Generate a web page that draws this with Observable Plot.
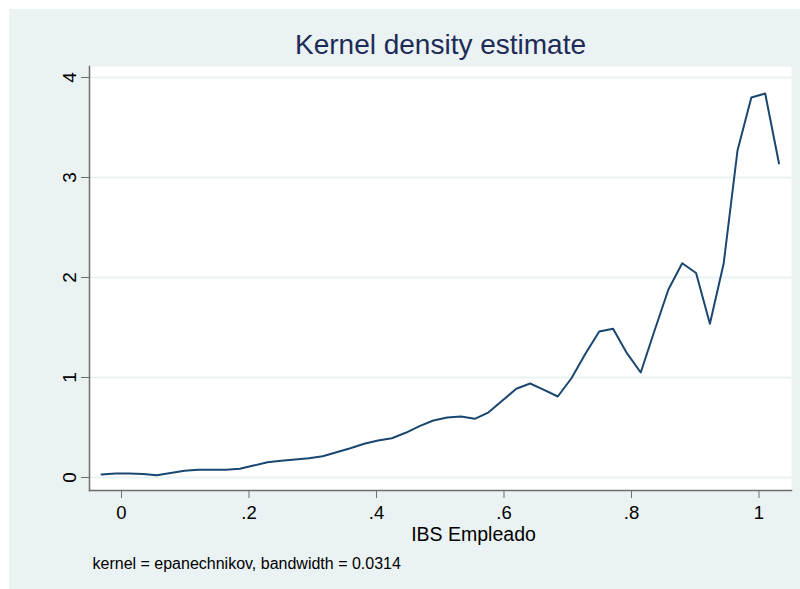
<!DOCTYPE html>
<html>
<head>
<meta charset="utf-8">
<script src="https://cdn.jsdelivr.net/npm/d3@7"></script>
<script src="https://cdn.jsdelivr.net/npm/@observablehq/plot@0.6"></script>
<style>
  html, body { margin: 0; padding: 0; background: #ffffff; }
  #wrap { position: relative; width: 800px; height: 589px; overflow: hidden; }
  #panel { position: absolute; left: 9px; top: 9px; width: 791px; height: 580px; background: #EAF2F3; }
  #chart { position: absolute; left: 0; top: 0; }
  svg { font-family: "Liberation Sans", Arial, sans-serif; }
</style>
</head>
<body>
<div id="wrap"><div id="panel"></div><div id="chart"></div></div>
<script>
// Evaluation points (IBS Empleado)
const xs = [
  -0.0314, -0.0097, 0.0120, 0.0337, 0.0554, 0.0771, 0.0987, 0.1204, 0.1421, 0.1638,
  0.1855, 0.2072, 0.2289, 0.2506, 0.2723, 0.2940, 0.3156, 0.3373, 0.3590, 0.3807,
  0.4024, 0.4241, 0.4458, 0.4675, 0.4892, 0.5109, 0.5325, 0.5542, 0.5759, 0.5976,
  0.6193, 0.6410, 0.6627, 0.6844, 0.7061, 0.7277, 0.7494, 0.7711, 0.7928, 0.8145,
  0.8362, 0.8579, 0.8796, 0.9013, 0.9230, 0.9446, 0.9663, 0.9880, 1.0097, 1.0314
];
// Density estimates
const density = [
  0.030, 0.040, 0.040, 0.035, 0.022, 0.045, 0.068, 0.077, 0.077, 0.078,
  0.088, 0.120, 0.152, 0.167, 0.180, 0.193, 0.212, 0.253, 0.293, 0.338,
  0.370, 0.393, 0.447, 0.513, 0.570, 0.600, 0.610, 0.587, 0.652, 0.770,
  0.887, 0.940, 0.877, 0.810, 0.995, 1.237, 1.460, 1.487, 1.243, 1.050,
  1.470, 1.880, 2.143, 2.045, 1.537, 2.140, 3.270, 3.800, 3.840, 3.140
];
const xTicks = [0, 0.2, 0.4, 0.6, 0.8, 1];
const xTickLabels = ["0", ".2", ".4", ".6", ".8", "1"];
const yTicks = [0, 1, 2, 3, 4];
const yTickLabels = ["0", "1", "2", "3", "4"];
const titleText = "Kernel density estimate";
const xTitle = "IBS Empleado";
const captionText = "kernel = epanechnikov, bandwidth = 0.0314";

const data = xs.map((x, i) => ({x, y: density[i]}));
const axisColor = "#6e6e6e";

const chart = Plot.plot({
  width: 800,
  height: 589,
  marginLeft: 89,
  marginRight: 9,
  marginTop: 66,
  marginBottom: 99,
  style: {background: "transparent", fontFamily: "'Liberation Sans', Arial, sans-serif", color: "#000"},
  x: {domain: [-0.0502, 1.051]},
  y: {domain: [-0.13, 4.11]},
  marks: [
    Plot.frame({fill: "white", stroke: null}),
    Plot.gridY(yTicks, {stroke: "#EAF2F3", strokeOpacity: 1, strokeWidth: 2}),
    Plot.frame({anchor: "left", stroke: axisColor, strokeWidth: 1.5}),
    Plot.frame({anchor: "bottom", stroke: axisColor, strokeWidth: 1.5}),
    Plot.axisY(yTicks, {
      anchor: "left", tickSize: 8, tickPadding: 6, tickRotate: -90,
      tickFormat: (d, i) => yTickLabels[i],
      fontSize: 19, stroke: axisColor, color: "#000", label: null
    }),
    Plot.axisX(xTicks, {
      anchor: "bottom", tickSize: 8, tickPadding: 7,
      tickFormat: (d, i) => xTickLabels[i],
      fontSize: 18.5, stroke: axisColor, label: null
    }),
    Plot.line(data, {x: "x", y: "y", stroke: "#1A476F", strokeWidth: 2}),
    Plot.text([titleText], {
      frameAnchor: "top", dy: -21, fontSize: 28, fill: "#1e2b57", lineAnchor: "middle"
    }),
    Plot.text([xTitle], {
      frameAnchor: "bottom", dx: 33, dy: 44, fontSize: 19.5, fill: "#000", lineAnchor: "middle"
    }),
    Plot.text([captionText], {
      frameAnchor: "bottom-left", textAnchor: "start", dx: 3, dy: 73, fontSize: 16, fill: "#000", lineAnchor: "middle"
    })
  ]
});
document.getElementById("chart").appendChild(chart);
</script>
</body>
</html>
